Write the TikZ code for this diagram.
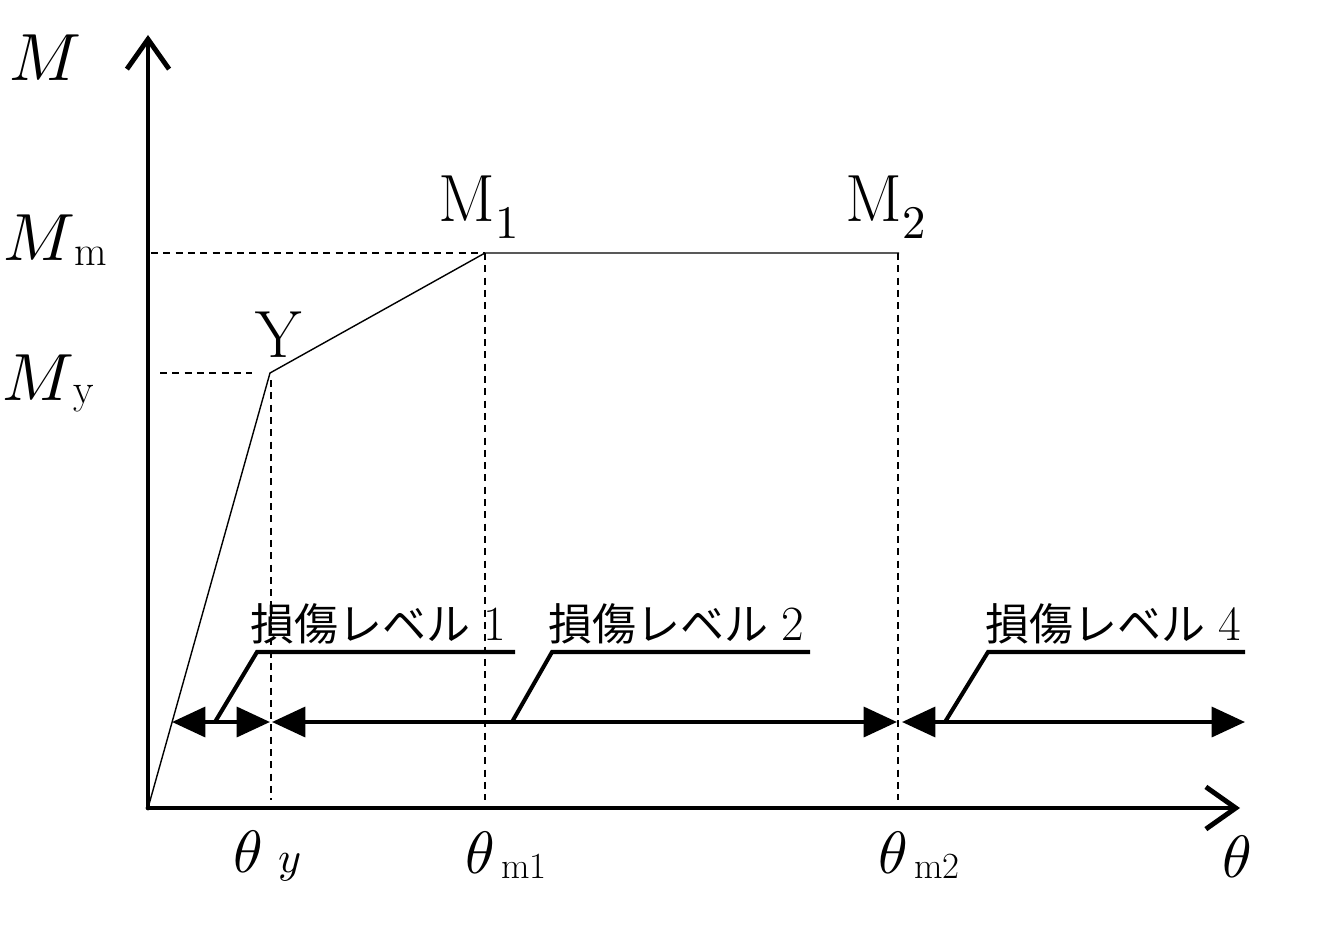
\documentclass[tikz,border=0pt]{standalone}
\usepackage{fontspec}
\usepackage{unicode-math}
\newfontfamily\jpfont{Noto Sans CJK JP}
\usetikzlibrary{arrows.meta}

\begin{document}
\begin{tikzpicture}[
    axis/.style={line width=2.8pt, line cap=round, -{Straight Barb[length=17pt,width=24pt,line width=2.8pt]}},
    curve/.style={line width=0.8pt},
    guide/.style={line width=0.8pt, dash pattern=on 4pt off 3pt},
    dmgspan/.style={line width=2.3pt, {Triangle[length=19pt,width=17pt]}-{Triangle[length=19pt,width=17pt]}},
    leader/.style={line width=2.3pt},
    sym/.style={font=\fontsize{38}{40}\selectfont, inner sep=0pt},
    ang/.style={font=\fontsize{34}{36}\selectfont, inner sep=0pt, anchor=base west},
    level/.style={font=\fontsize{25}{28}\selectfont, inner sep=0pt, anchor=base west}
  ]
  \useasboundingbox (-2.96,-2.36) rectangle (23.48,16.16);

  \coordinate (o)    at (0,0);
  \coordinate (ytop) at (0,15.46);
  \coordinate (xend) at (21.84,0);
  \coordinate (py)   at (2.44,8.70);
  \coordinate (p1)   at (6.74,11.10);
  \coordinate (p2)   at (15.02,11.10);

  \coordinate (mm)  at (0.06,11.10);
  \coordinate (my0) at (0.24,8.70);
  \coordinate (my1) at (2.08,8.70);
  \coordinate (ty)  at (2.46,0.16);
  \coordinate (ty0) at (2.46,8.56);
  \coordinate (t1)  at (6.74,0.16);
  \coordinate (t2)  at (15.0,0.16);
  \coordinate (t20) at (15.0,11.10);

  % axes and curve
  \draw[axis] (o) -- (ytop);
  \draw[axis] (o) -- (xend);
  \draw[curve] (o) -- (py) -- (p1) -- (p2);

  % guides
  \draw[guide] (mm) -- (p1);
  \draw[guide] (my0) -- (my1);
  \draw[guide] (ty0) -- (ty);
  \draw[guide] (p1) -- (t1);
  \draw[guide] (t20) -- (t2);

  % labels
  \node[sym] (lm)  at (-2.06,15.0){$M$};
  \node[sym, anchor=base west] (lmm) at (-2.90,10.96){$M$\raisebox{-3pt}{\fontsize{24}{26}\selectfont m}};
  \node[sym, anchor=base west] (lmy) at (-2.92,8.16){$M$\raisebox{-2pt}{\fontsize{24}{26}\selectfont y}};
  \node[sym] (ly)  at (2.62,9.46){$\mathrm{Y}$};
  \node[sym] (lm1) at (6.62,12.02){$\mathrm{M}_1$};
  \node[sym] (lm2) at (14.76,12.02){$\mathrm{M}_2$};
  \node[ang] (lty) at (1.70,-1.28){$\theta$\hspace{9pt}{\fontsize{25}{27}\selectfont$y$}};
  \node[ang] (lt1) at (6.34,-1.30){$\theta$\hspace{4pt}\raisebox{-3pt}{\fontsize{21}{23}\selectfont m1}};
  \node[ang] (lt2) at (14.60,-1.30){$\theta$\hspace{4pt}\raisebox{-3pt}{\fontsize{21}{23}\selectfont m2}};
  \node[sym] (lt)  at (21.78,-0.98){\fontsize{34}{36}\selectfont$\theta$};

  % damage ranges
  \coordinate (a0) at (0.48,1.72);
  \coordinate (a1) at (2.44,1.72);
  \coordinate (b0) at (2.48,1.72);
  \coordinate (b1) at (14.98,1.72);
  \coordinate (c0) at (15.08,1.72);
  \coordinate (c1) at (21.94,1.72);
  \draw[dmgspan] (a0) -- (a1);
  \draw[dmgspan] (b0) -- (b1);
  \draw[dmgspan] (c0) -- (c1);

  \coordinate (l1a) at (1.34,1.72);
  \coordinate (l1b) at (2.18,3.12);
  \coordinate (l1c) at (7.34,3.12);
  \coordinate (l2a) at (7.28,1.72);
  \coordinate (l2b) at (8.08,3.12);
  \coordinate (l2c) at (13.24,3.12);
  \coordinate (l4a) at (15.94,1.72);
  \coordinate (l4b) at (16.80,3.12);
  \coordinate (l4c) at (21.94,3.12);
  \draw[leader] (l1a) -- (l1b) -- (l1c);
  \draw[leader] (l2a) -- (l2b) -- (l2c);
  \draw[leader] (l4a) -- (l4b) -- (l4c);

  \node[level] (d1) at (2.04,3.36){{\jpfont 損傷レベル} {\fontsize{28}{30}\selectfont 1}};
  \node[level] (d2) at (8.0,3.36){{\jpfont 損傷レベル} {\fontsize{28}{30}\selectfont 2}};
  \node[level] (d4) at (16.74,3.36){{\jpfont 損傷レベル} {\fontsize{28}{30}\selectfont 4}};
\end{tikzpicture}
\end{document}
